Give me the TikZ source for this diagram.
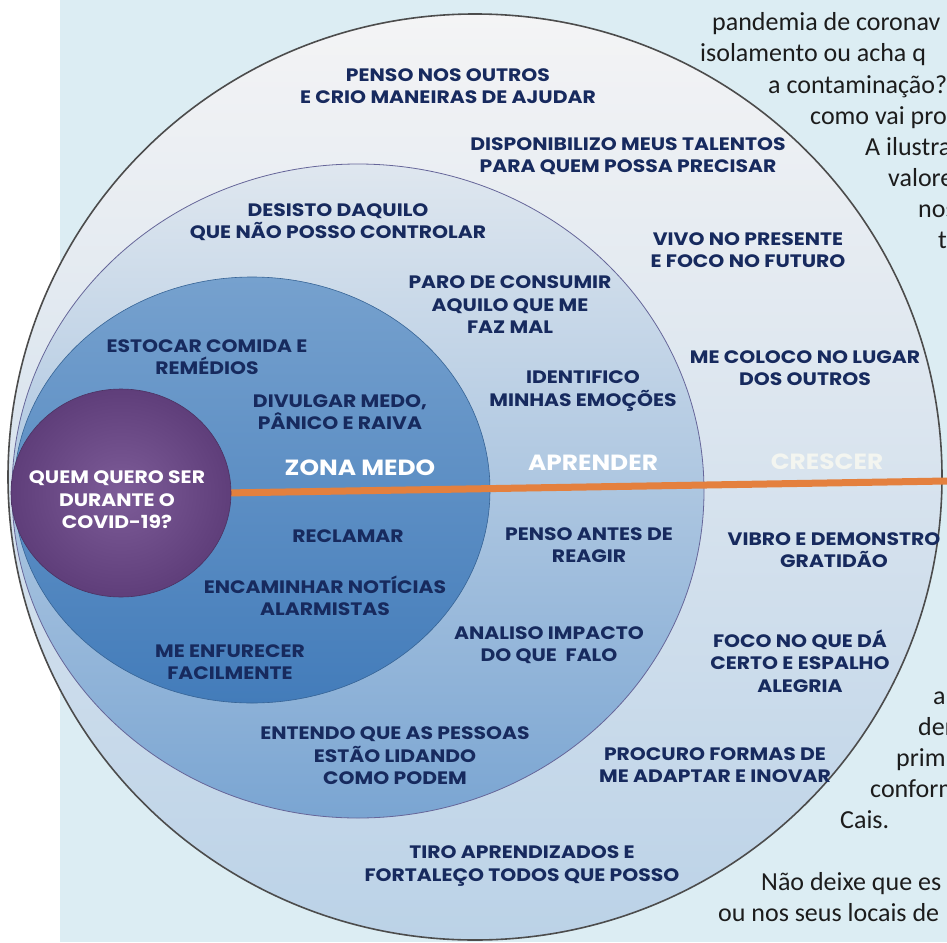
\documentclass[tikz,border=0pt]{standalone}
\usepackage{fontspec}
\newfontfamily\labfont{Poppins}[FakeStretch=1.13]
\newfontfamily\sidefont{Carlito}
\definecolor{bgblue}{HTML}{DCEDF3}
\definecolor{navy}{HTML}{172A5E}
\definecolor{sidetext}{HTML}{1C1C1C}
\definecolor{lineorange}{HTML}{E4803E}
\definecolor{outerTop}{HTML}{F4F4F5}
\definecolor{outerBot}{HTML}{BBD2E7}
\definecolor{midTop}{HTML}{DFE7EF}
\definecolor{midBot}{HTML}{7AA5D2}
\definecolor{innTop}{HTML}{76A1CE}
\definecolor{innBot}{HTML}{437CBA}
\definecolor{purpIn}{HTML}{7D5C98}
\definecolor{purpOut}{HTML}{5F3E7A}
\definecolor{crescerc}{HTML}{F3F5F0}
\begin{document}
\begin{tikzpicture}[x=1pt,y={(0pt,-1pt)},
  lab/.style={font=\labfont\bfseries\fontsize{18}{22.5}\selectfont, text=navy, align=center, inner sep=0pt},
  whitelab/.style={lab, text=white},
  zone/.style={font=\labfont\bfseries\fontsize{22}{26}\selectfont, text=white, inner sep=0pt},
  side/.style={font=\sidefont\fontsize{26}{31}\selectfont, text=sidetext, inner sep=0pt, anchor=base west}]
\useasboundingbox (0,0) rectangle (947,942);
\fill[white] (0,0) rectangle (947,942);
\fill[bgblue] (60,0) rectangle (947,942);

% side text (wrapped around the circle)
\node[side] (t1) at (712,31) {pandemia de coronav};
\node[side] (t2) at (700,62) {isolamento ou acha q};
\node[side] (t3) at (768,93) {a contaminação?};
\node[side] (t4) at (810,124) {como vai pro};
\node[side] (t5) at (865,155) {A ilustra};
\node[side] (t6) at (888,186) {valore};
\node[side] (t7) at (918,217) {nos};
\node[side] (t8) at (938,248) {t};
\node[side] (b1) at (933,704) {a};
\node[side] (b2) at (918,735) {der};
\node[side] (b3) at (896,766) {prim};
\node[side] (b4) at (870,797) {conform};
\node[side] (b5) at (840,828) {Cais.};
\node[side] (b6) at (761,890) {Não deixe que es};
\node[side] (b7) at (718,921) {ou nos seus locais de};

% circles
\shade[top color=outerTop, bottom color=outerBot] (475,477) ellipse [x radius=467, y radius=463];
\draw[black!70, line width=1.6pt] (475,477) ellipse [x radius=467, y radius=463];
\shade[top color=midTop, bottom color=midBot] (358,491) ellipse [x radius=346, y radius=327];
\draw[gray!80!blue, line width=0.8pt] (358,491) ellipse [x radius=346, y radius=327];
\shade[top color=innTop, bottom color=innBot] (252,490) ellipse [x radius=238, y radius=213];
\draw[innBot!80!black, line width=0.6pt] (252,490) ellipse [x radius=238, y radius=213];

\coordinate (lineStart) at (225,493);
\coordinate (lineEnd) at (947,481);
\draw[lineorange, line width=7pt] (lineStart) -- (lineEnd);

\shade[inner color=purpIn, outer color=purpOut] (121,493) ellipse [x radius=110, y radius=104];
\draw[purpOut!80!black, line width=0.6pt] (121,493) ellipse [x radius=110, y radius=104];

% zone titles
\node[zone] (zmedo) at (360,468) {ZONA MEDO};
\node[zone] (zapr) at (593,463) {APRENDER};
\node[zone, text=crescerc] (zcre) at (827,462) {CRESCER};

\node[whitelab] (quem) at (117,500) {QUEM QUERO SER\\DURANTE O\\COVID-19?};

% outer ring
\node[lab] (l1) at (448,86) {PENSO NOS OUTROS\\E CRIO MANEIRAS DE AJUDAR};
\node[lab] (l2) at (628,156) {DISPONIBILIZO MEUS TALENTOS\\PARA QUEM POSSA PRECISAR};
\node[lab] (l4) at (748,250) {VIVO NO PRESENTE\\E FOCO NO FUTURO};
\node[lab] (l7) at (805,368) {ME COLOCO NO LUGAR\\DOS OUTROS};
\node[lab] (l20) at (834,550) {VIBRO E DEMONSTRO\\GRATIDÃO};
\node[lab] (l22) at (800,661) {FOCO NO QUE DÁ\\CERTO E ESPALHO\\ALEGRIA};
\node[lab] (l23) at (715,765) {PROCURO FORMAS DE\\ME ADAPTAR E INOVAR};
\node[lab] (l18) at (522,866) {TIRO APRENDIZADOS E\\FORTALEÇO TODOS QUE POSSO};

% middle ring
\node[lab] (l3) at (338,222) {DESISTO DAQUILO\\QUE NÃO POSSO CONTROLAR};
\node[lab] (l5) at (510,305) {PARO DE CONSUMIR\\AQUILO QUE ME\\FAZ MAL};
\node[lab] (l8) at (583,391) {IDENTIFICO\\MINHAS EMOÇÕES};
\node[lab] (l19) at (589,545) {PENSO ANTES DE\\REAGIR};
\node[lab] (l21) at (549,645) {ANALISO IMPACTO\\DO QUE~~FALO};
\node[lab] (l17) at (395,756) {ENTENDO QUE AS PESSOAS\\ESTÃO LIDANDO\\COMO PODEM};

% inner zone
\node[lab] (l6) at (207,357) {ESTOCAR COMIDA E\\REMÉDIOS};
\node[lab] (l9) at (340,412) {DIVULGAR MEDO,\\PÂNICO E RAIVA};
\node[lab] (l14) at (348,536) {RECLAMAR};
\node[lab] (l15) at (325,596) {ENCAMINHAR NOTÍCIAS\\ALARMISTAS};
\node[lab] (l16) at (230,662) {ME ENFURECER\\FACILMENTE};
\end{tikzpicture}
\end{document}
